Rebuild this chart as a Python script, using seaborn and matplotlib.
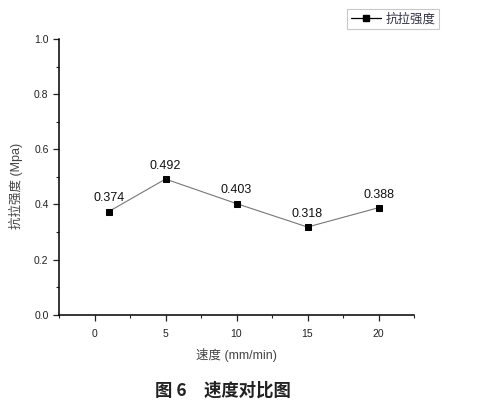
import matplotlib
matplotlib.use("Agg")
import matplotlib.pyplot as plt
import seaborn as sns
import pandas as pd
from matplotlib.lines import Line2D
from matplotlib.ticker import MultipleLocator

speed = [1, 5, 10, 15, 20]
strength = [0.374, 0.492, 0.403, 0.318, 0.388]
value_labels = ["0.374", "0.492", "0.403", "0.318", "0.388"]
x_ticks = [0, 5, 10, 15, 20]
y_ticks = [0.0, 0.2, 0.4, 0.6, 0.8, 1.0]

df = pd.DataFrame({"speed": speed, "strength": strength})

sns.set_style("ticks")
plt.rcParams["font.family"] = ["Liberation Sans", "Noto Sans CJK SC", "DejaVu Sans"]

fig = plt.figure(figsize=(4.94, 4.12), dpi=100)
ax = fig.add_axes([59 / 494, 97.3 / 412, 355 / 494, 275.7 / 412])

sns.lineplot(data=df, x="speed", y="strength", ax=ax, color="#777777", linewidth=0.8,
             marker="s", markersize=4.5, markerfacecolor="black", markeredgecolor="black",
             legend=False)

for xv, yv, lab in zip(speed, strength, value_labels):
    ax.annotate(lab, (xv, yv), xytext=(0, 9.5), textcoords="offset points",
                ha="center", va="center", fontsize=9, color="#111111")

ax.set_xlim(-2.5, 22.5)
ax.set_ylim(0, 1.0)
ax.set_xticks(x_ticks)
ax.set_yticks(y_ticks)
ax.set_yticklabels([f"{v:.1f}" for v in y_ticks])
ax.xaxis.set_minor_locator(MultipleLocator(2.5))
ax.yaxis.set_minor_locator(MultipleLocator(0.1))
ax.tick_params(which="major", direction="out", length=4, width=0.9, labelsize=7.5,
               colors="#222222")
ax.tick_params(which="minor", direction="out", length=2.5, width=0.8)
ax.tick_params(axis="x", pad=6)

for side in ["top", "right"]:
    ax.spines[side].set_visible(False)
for side in ["left", "bottom"]:
    ax.spines[side].set_linewidth(1.1)
    ax.spines[side].set_color("black")

ax.set_xlabel("速度 (mm/min)", fontsize=9, color="#444444")
ax.set_ylabel("抗拉强度 (Mpa)", fontsize=9, color="#444444")
ax.xaxis.set_label_coords(0.4986, -0.12)
ax.yaxis.set_label_coords(-0.101, 0.467)

handle = Line2D([], [], color="black", linewidth=0.9, marker="s", markersize=4,
                markerfacecolor="black")
leg = fig.legend([handle], ["抗拉强度"], loc="center", bbox_to_anchor=(393 / 494, 1 - 19 / 412),
                 frameon=True, fancybox=False, handlelength=2.4,
                 borderpad=0.3, handletextpad=0.4, prop={"family": "Noto Sans CJK SC", "size": 9})
leg.get_frame().set_edgecolor("#bbbbbb")
leg.get_frame().set_linewidth(0.8)
for t in leg.get_texts():
    t.set_color("#333344")

fig.text(223 / 494, 1 - 391 / 412, "图 6　速度对比图", ha="center", va="center",
         fontsize=12.5, fontweight="bold", family=["Noto Sans CJK SC", "DejaVu Sans"],
         color="#222222")

fig.savefig("out.png", dpi=100)
